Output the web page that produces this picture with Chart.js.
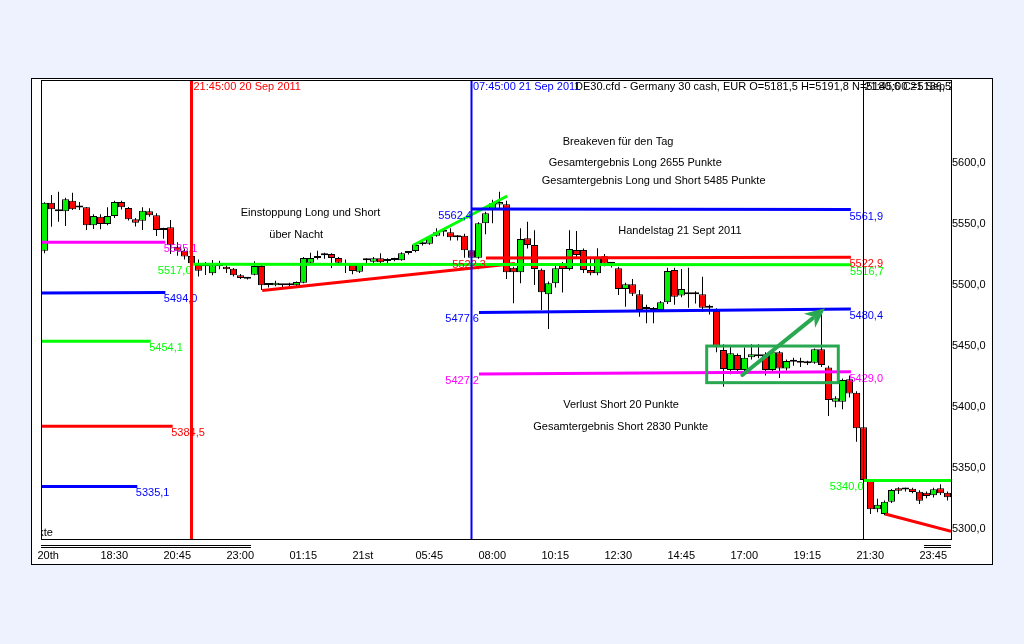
<!DOCTYPE html>
<html><head><meta charset="utf-8">
<script src="https://cdn.jsdelivr.net/npm/chart.js@4/dist/chart.umd.min.js"></script>
<style>html,body{margin:0;padding:0;background:#EEF2FE;}canvas{display:block;}</style>
</head><body>
<canvas id="c" width="1024" height="644"></canvas>
<script>
// ---------- DATA (15-minute bars, DE30 CFD, 20-21 Sep 2011) ----------
const firstBar = '20.09.2011 16:30';
const barTimes = [];
for (let i = 0; i < 130; i++) { const m = 16 * 60 + 30 + 15 * i; barTimes.push(String(Math.floor(m / 60) % 24).padStart(2, '0') + ':' + String(m % 60).padStart(2, '0')); }

const openP = [5528.2,5567.5,5562.1,5560.4,5569.1,5563.9,5563.7,5549.0,5556.0,5550.0,
5556.6,5568.0,5563.1,5553.9,5552.7,5560.4,5557.2,5545.1,5547.3,5531.5,
5528.2,5523.8,5516.5,5515.8,5509.7,5516.5,5515.0,5513.4,5508.0,5505.4,
5508.5,5515.6,5500.2,5499.8,5500.0,5499.8,5499.8,5502.0,5518.4,5522.2,
5524.6,5525.5,5522.2,5516.5,5516.5,5511.0,5520.5,5519.2,5522.0,5519.9,
5520.6,5520.3,5526.5,5527.9,5533.5,5533.9,5540.5,5543.9,5543.2,5539.3,
5540.5,5528.5,5522.4,5550.6,5561.5,5566.0,5566.2,5514.3,5510.5,5538.3,
5532.8,5512.6,5492.5,5501.5,5517.9,5513.2,5528.7,5528.7,5512.4,5509.7,
5523.6,5517.7,5513.8,5496.8,5500.7,5492.5,5480.6,5479.8,5479.6,5485.9,
5512.4,5491.4,5494.1,5492.7,5492.5,5481.7,5478.8,5446.8,5430.5,5442.7,
5430.5,5441.0,5443.3,5443.3,5430.5,5445.0,5431.8,5437.5,5436.6,5436.2,
5436.4,5447.4,5432.6,5404.5,5404.5,5422.8,5411.9,5383.5,5339.8,5316.4,
5312.5,5322.6,5333.6,5332.9,5333.3,5330.8,5330.0,5327.8,5333.6,5330.0];
const highP = [5567.8,5573.8,5576.5,5571.5,5575.7,5568.0,5564.0,5558.0,5558.0,5563.7,
5569.0,5569.0,5564.0,5555.0,5563.7,5562.9,5558.8,5547.0,5553.3,5535.0,
5530.0,5525.0,5521.0,5519.0,5520.6,5520.0,5516.0,5514.0,5509.0,5506.0,
5519.5,5516.5,5501.5,5503.5,5501.0,5502.0,5503.0,5523.0,5526.5,5528.2,
5526.5,5526.0,5523.0,5521.0,5518.0,5518.0,5522.0,5523.0,5526.0,5522.0,
5522.5,5527.0,5528.0,5534.0,5535.5,5540.5,5546.5,5546.5,5546.5,5541.0,
5542.0,5535.0,5551.5,5560.0,5570.0,5576.5,5569.0,5515.0,5546.5,5551.9,
5545.0,5513.5,5503.0,5516.0,5519.0,5545.0,5544.3,5530.0,5522.0,5530.1,
5525.5,5519.0,5515.0,5502.0,5505.0,5496.0,5484.0,5482.0,5487.0,5514.2,
5514.2,5513.2,5514.2,5495.0,5506.9,5484.0,5481.0,5451.5,5451.0,5444.0,
5449.0,5451.5,5451.5,5445.0,5446.0,5446.0,5439.0,5440.5,5440.5,5438.0,
5448.0,5479.6,5434.0,5409.0,5423.5,5426.0,5413.0,5384.0,5340.5,5325.0,
5323.5,5333.0,5334.5,5334.0,5334.0,5332.0,5331.0,5334.0,5337.0,5331.0];
const lowP = [5526.0,5547.8,5551.9,5548.4,5561.5,5561.5,5545.1,5546.0,5545.7,5549.0,
5555.0,5562.0,5553.0,5548.0,5545.1,5556.0,5540.2,5538.0,5525.5,5524.0,
5521.0,5514.0,5507.0,5508.3,5508.0,5513.0,5510.0,5507.0,5505.0,5504.5,
5508.0,5496.0,5498.0,5499.0,5498.5,5499.0,5499.0,5501.5,5517.0,5521.0,
5521.5,5514.0,5517.0,5510.0,5508.8,5510.0,5516.5,5518.0,5518.0,5518.0,
5519.5,5520.0,5525.0,5527.0,5532.5,5533.0,5539.5,5540.0,5536.5,5536.5,
5522.4,5518.0,5521.5,5541.6,5550.6,5562.0,5505.0,5485.1,5501.5,5530.0,
5500.1,5479.6,5464.0,5498.0,5494.0,5512.0,5523.0,5510.0,5508.0,5508.0,
5515.5,5514.5,5491.9,5482.3,5491.0,5474.1,5468.7,5468.7,5478.5,5484.5,
5484.0,5490.0,5481.5,5485.0,5478.0,5476.0,5445.0,5416.8,5427.0,5427.5,
5427.0,5439.0,5440.0,5426.0,5428.0,5424.0,5430.0,5434.0,5433.0,5434.5,
5435.5,5433.0,5392.8,5400.0,5398.3,5408.0,5371.8,5339.5,5312.5,5314.0,
5311.5,5321.5,5329.0,5331.0,5329.5,5320.7,5325.5,5326.0,5328.0,5323.5];
const closeP = [5567.5,5562.1,5560.4,5570.3,5562.1,5563.5,5549.0,5556.6,5550.0,5556.6,
5568.0,5563.7,5553.9,5551.1,5560.9,5557.2,5545.1,5546.2,5532.6,5528.2,
5523.5,5518.0,5511.8,5515.4,5516.2,5515.5,5513.0,5508.0,5505.8,5505.2,
5515.6,5499.8,5500.0,5502.0,5499.8,5500.8,5502.5,5522.2,5522.2,5523.8,
5524.4,5522.2,5518.4,5517.0,5511.5,5517.0,5520.3,5522.0,5518.7,5519.7,
5520.8,5526.0,5526.3,5532.8,5533.9,5539.6,5543.2,5543.7,5539.1,5539.1,
5528.5,5522.4,5550.6,5558.8,5567.0,5568.0,5510.5,5510.5,5537.8,5532.8,
5513.2,5494.1,5501.5,5513.8,5513.2,5529.6,5524.7,5512.4,5509.7,5523.0,
5517.5,5517.5,5496.8,5500.7,5493.0,5479.6,5480.4,5479.6,5485.9,5511.5,
5490.5,5496.8,5492.5,5492.5,5481.5,5481.5,5450.4,5431.3,5444.1,5430.5,
5440.5,5443.3,5441.7,5430.5,5445.0,5431.8,5437.8,5437.3,5436.4,5436.0,
5447.4,5434.6,5405.9,5407.3,5422.3,5411.3,5382.7,5340.4,5316.4,5320.2,
5322.6,5332.2,5331.6,5332.7,5330.5,5323.4,5327.3,5332.8,5329.5,5326.2];

// time-axis tick labels (bar index -> label)
const tickBars   = [-1, 8, 17, 26, 35, 44, 53, 62, 71, 80, 89, 98, 107, 116, 125];
const tickLabels = ['20th','18:30','20:45','23:00','01:15','21st','05:45','08:00','10:15','12:30','14:45','17:00','19:15','21:30','23:45'];
// price-axis ticks
const priceTicks = [5300, 5350, 5400, 5450, 5500, 5550, 5600];
const priceMin = 5292.06, priceMax = 5667.16;

// horizontal level lines (bar index from/to, price at start/end)
const levelFrom  = [-0.5, -0.5, -0.5, -0.5, -0.5, 21.0, 61.07, 63.07, 62.07, 62.07, 117.0];
const levelTo    = [17.26, 17.26, 15.17, 18.31, 13.26, 115.3, 115.2, 115.2, 115.2, 115.2, 129.5];
const levelStart = [5535.1, 5493.5, 5454.1, 5384.5, 5335.1, 5517.0, 5562.4, 5522.3, 5477.6, 5427.2, 5340.0];
const levelEnd   = [5535.1, 5494.0, 5454.1, 5384.5, 5335.1, 5516.7, 5561.9, 5522.9, 5480.4, 5429.0, 5340.0];
const levelStartLabel = [false,false,false,false,false,true,true,true,true,true,true];
const levelEndLabel   = [true,true,true,true,true,true,true,true,true,true,false];

// trend lines
const trendFrom = [31.1, 52.6, 120.1];
const trendTo   = [67.2, 66.1, 129.5];
const trendV0   = [5495.6, 5532.4, 5312.5];
const trendV1   = [5517.7, 5573.0, 5298.4];

// vertical time lines
const vlineBars   = [21, 61, 117];
const vlineLabels = ['21:45:00 20 Sep 2011', '07:45:00 21 Sep 2011', '21:45:00 21 Sep 2011'];

// consolidation box and arrow (bar index, price)
const boxBars   = [94.6, 113.4];
const boxPrices = [5450.1, 5420.1];
const arrowBars   = [99.7, 111.5];
const arrowPrices = [5426.4, 5481.0];

// text notes (left-anchored unless noted)
const noteTexts  = ['Einstoppung Long und Short','über Nacht','Breakeven für den Tag','Gesamtergebnis Long 2655 Punkte',
  'Gesamtergebnis Long und Short 5485 Punkte','Handelstag 21 Sept 2011','Verlust Short 20 Punkte','Gesamtergebnis Short 2830 Punkte','Punkte'];
const noteBars   = [28.04, 32.11, 74.03, 72.03, 71.03, 81.97, 74.11, 69.83, 1.21];
const notePrices = [5558.8, 5541.3, 5617.2, 5599.75, 5585.3, 5544.1, 5401.8, 5384.0, 5297.4];
const headerText = 'DE30.cfd - Germany 30 cash, EUR O=5181,5 H=5191,8 N=5180,6 C=5186,5';

// ---------- STYLES ----------
const FONT = '11px "Liberation Sans", Arial, sans-serif';
const levelColors = ['#FF00FF','#0000FF','#00FF00','#FF0000','#0000FF','#00FF00','#0000FF','#FF0000','#0000FF','#FF00FF','#00FF00'];
const trendColors = ['#FF0000','#00FF00','#FF0000'];
const vlineColors = ['#FF0000','#0000FF','#000000'];
const vlineWidths = [3, 2, 1];
const markColor = '#28A850';
const fmt = v => v.toFixed(1).replace('.', ',');

const datasets = [];
datasets.push({
  type: 'bar', label: 'wick', order: 3, grouped: false,
  data: highP.map((h, i) => ({ x: i, y: [lowP[i], h] })),
  backgroundColor: '#000', borderWidth: 0, barThickness: 1, inflateAmount: 0
});
datasets.push({
  type: 'bar', label: 'body', order: 2, grouped: false,
  data: openP.map((o, i) => ({ x: i, y: [o, closeP[i]] })),
  backgroundColor: openP.map((o, i) => closeP[i] > o ? '#00F000' : '#FF0000'),
  borderColor: '#000', borderWidth: 1, borderSkipped: false, barThickness: 7, minBarLength: 2, inflateAmount: 0
});
levelFrom.forEach((f, i) => datasets.push({
  type: 'line', order: 1, clip: 0,
  data: [{ x: f, y: levelStart[i] }, { x: levelTo[i], y: levelEnd[i] }],
  borderColor: levelColors[i], borderWidth: 3, pointRadius: 0, tension: 0, borderCapStyle: 'butt'
}));
trendFrom.forEach((f, i) => datasets.push({
  type: 'line', order: 1, clip: 0,
  data: [{ x: f, y: trendV0[i] }, { x: trendTo[i], y: trendV1[i] }],
  borderColor: trendColors[i], borderWidth: 3, pointRadius: 0, tension: 0
}));

const framePlugin = {
  id: 'frame',
  beforeDraw(chart) {
    const c = chart.ctx;
    c.save();
    c.fillStyle = '#EEF2FE'; c.fillRect(0, 0, 1024, 644);
    c.fillStyle = '#FFFFFF'; c.fillRect(31, 78, 962, 487);
    c.strokeStyle = '#000'; c.lineWidth = 1; c.strokeRect(31.5, 78.5, 961, 486);
    c.restore();
  },
  afterDraw(chart) {
    const c = chart.ctx, a = chart.chartArea;
    c.save();
    c.strokeStyle = '#000'; c.lineWidth = 1;
    c.strokeRect(a.left + 0.5, a.top - 0.5, a.right - a.left, a.bottom - a.top + 1);
    c.beginPath();
    [a.bottom + 6.5, a.bottom + 8.5].forEach(yy => {
      c.moveTo(a.left, yy); c.lineTo(a.left + 210, yy);
      c.moveTo(a.right - 27, yy); c.lineTo(a.right, yy);
    });
    c.stroke();
    c.restore();
  }
};

const overlayPlugin = {
  id: 'overlay',
  afterDatasetsDraw(chart) {
    const c = chart.ctx, a = chart.chartArea, xs = chart.scales.x, ys = chart.scales.y;
    const X = v => xs.getPixelForValue(v), Y = v => ys.getPixelForValue(v);
    c.save();
    c.beginPath(); c.rect(a.left, a.top, a.right - a.left, a.bottom - a.top); c.clip();
    c.font = FONT; c.textBaseline = 'middle';
    // level value labels
    levelFrom.forEach((f, i) => {
      c.fillStyle = levelColors[i];
      if (levelStartLabel[i]) { c.textAlign = 'right'; c.fillText(fmt(levelStart[i]), X(f), Y(levelStart[i]) + 7); }
      if (levelEndLabel[i]) { c.textAlign = 'left'; c.fillText(fmt(levelEnd[i]), X(levelTo[i]) - 1.5, Y(levelEnd[i]) + 7); }
    });
    // box
    c.strokeStyle = markColor; c.lineWidth = 3; c.lineJoin = 'miter';
    const bx0 = X(boxBars[0]), bx1 = X(boxBars[1]), by0 = Y(boxPrices[0]), by1 = Y(boxPrices[1]);
    c.strokeRect(bx0, by0, bx1 - bx0, by1 - by0);
    // arrow
    const p0 = { x: X(arrowBars[0]), y: Y(arrowPrices[0]) }, p1 = { x: X(arrowBars[1]), y: Y(arrowPrices[1]) };
    const ang = Math.atan2(p1.y - p0.y, p1.x - p0.x), ca = Math.cos(ang), sa = Math.sin(ang);
    const hl = 20, hw = 9;
    const bx = p1.x - hl * ca, by = p1.y - hl * sa;
    c.lineWidth = 4; c.lineCap = 'round';
    c.beginPath(); c.moveTo(p0.x, p0.y); c.lineTo(bx + 4 * ca, by + 4 * sa); c.stroke();
    c.fillStyle = markColor;
    c.beginPath(); c.moveTo(p1.x, p1.y);
    c.lineTo(bx - hw * sa, by + hw * ca);
    c.lineTo(bx + 6 * ca, by + 6 * sa);
    c.lineTo(bx + hw * sa, by - hw * ca);
    c.closePath(); c.fill();
    // notes
    c.fillStyle = '#000';
    noteTexts.forEach((t, i) => {
      c.textAlign = (t === 'Punkte') ? 'right' : 'left';
      c.fillText(t, X(noteBars[i]), Y(notePrices[i]));
    });
    // header
    c.textAlign = 'left';
    c.fillText(headerText, a.left + 534, a.top + 5.5);
    // vertical lines
    vlineBars.forEach((b, i) => {
      const px = X(b);
      c.strokeStyle = vlineColors[i]; c.lineWidth = vlineWidths[i]; c.lineCap = 'butt';
      c.beginPath(); c.moveTo(px, a.top); c.lineTo(px, a.bottom); c.stroke();
      c.fillStyle = vlineColors[i]; c.textAlign = 'left';
      c.fillText(vlineLabels[i], px + vlineWidths[i] / 2 + 0.5, a.top + 5.5);
    });
    c.restore();
  }
};

new Chart(document.getElementById('c'), {
  type: 'bar',
  data: { datasets },
  options: {
    responsive: false, animation: false, devicePixelRatio: 1,
    layout: { padding: { left: 41, top: 81, right: 0, bottom: 0 } },
    plugins: { legend: { display: false }, tooltip: { enabled: false } },
    scales: {
      x: {
        type: 'linear', min: -0.5, max: 129.5, offset: false,
        grid: { display: false, drawTicks: false }, border: { display: false },
        ticks: { autoSkip: false, maxRotation: 0, align: 'start', padding: 10, color: '#000',
          font: { family: '"Liberation Sans", Arial, sans-serif', size: 11 },
          callback: (v, idx) => tickLabels[idx] },
        afterBuildTicks: s => { s.ticks = tickBars.map(v => ({ value: v })); },
        afterFit: s => { s.height = 105; }
      },
      y: {
        type: 'linear', position: 'right', min: priceMin, max: priceMax, beginAtZero: false,
        grid: { display: false, drawTicks: false }, border: { display: false },
        ticks: { padding: 1, color: '#000', font: { family: '"Liberation Sans", Arial, sans-serif', size: 11 },
          callback: v => fmt(v) },
        afterBuildTicks: s => { s.ticks = priceTicks.map(v => ({ value: v })); },
        afterFit: s => { s.width = 73; }
      }
    }
  },
  plugins: [framePlugin, overlayPlugin]
});
</script>
</body></html>
